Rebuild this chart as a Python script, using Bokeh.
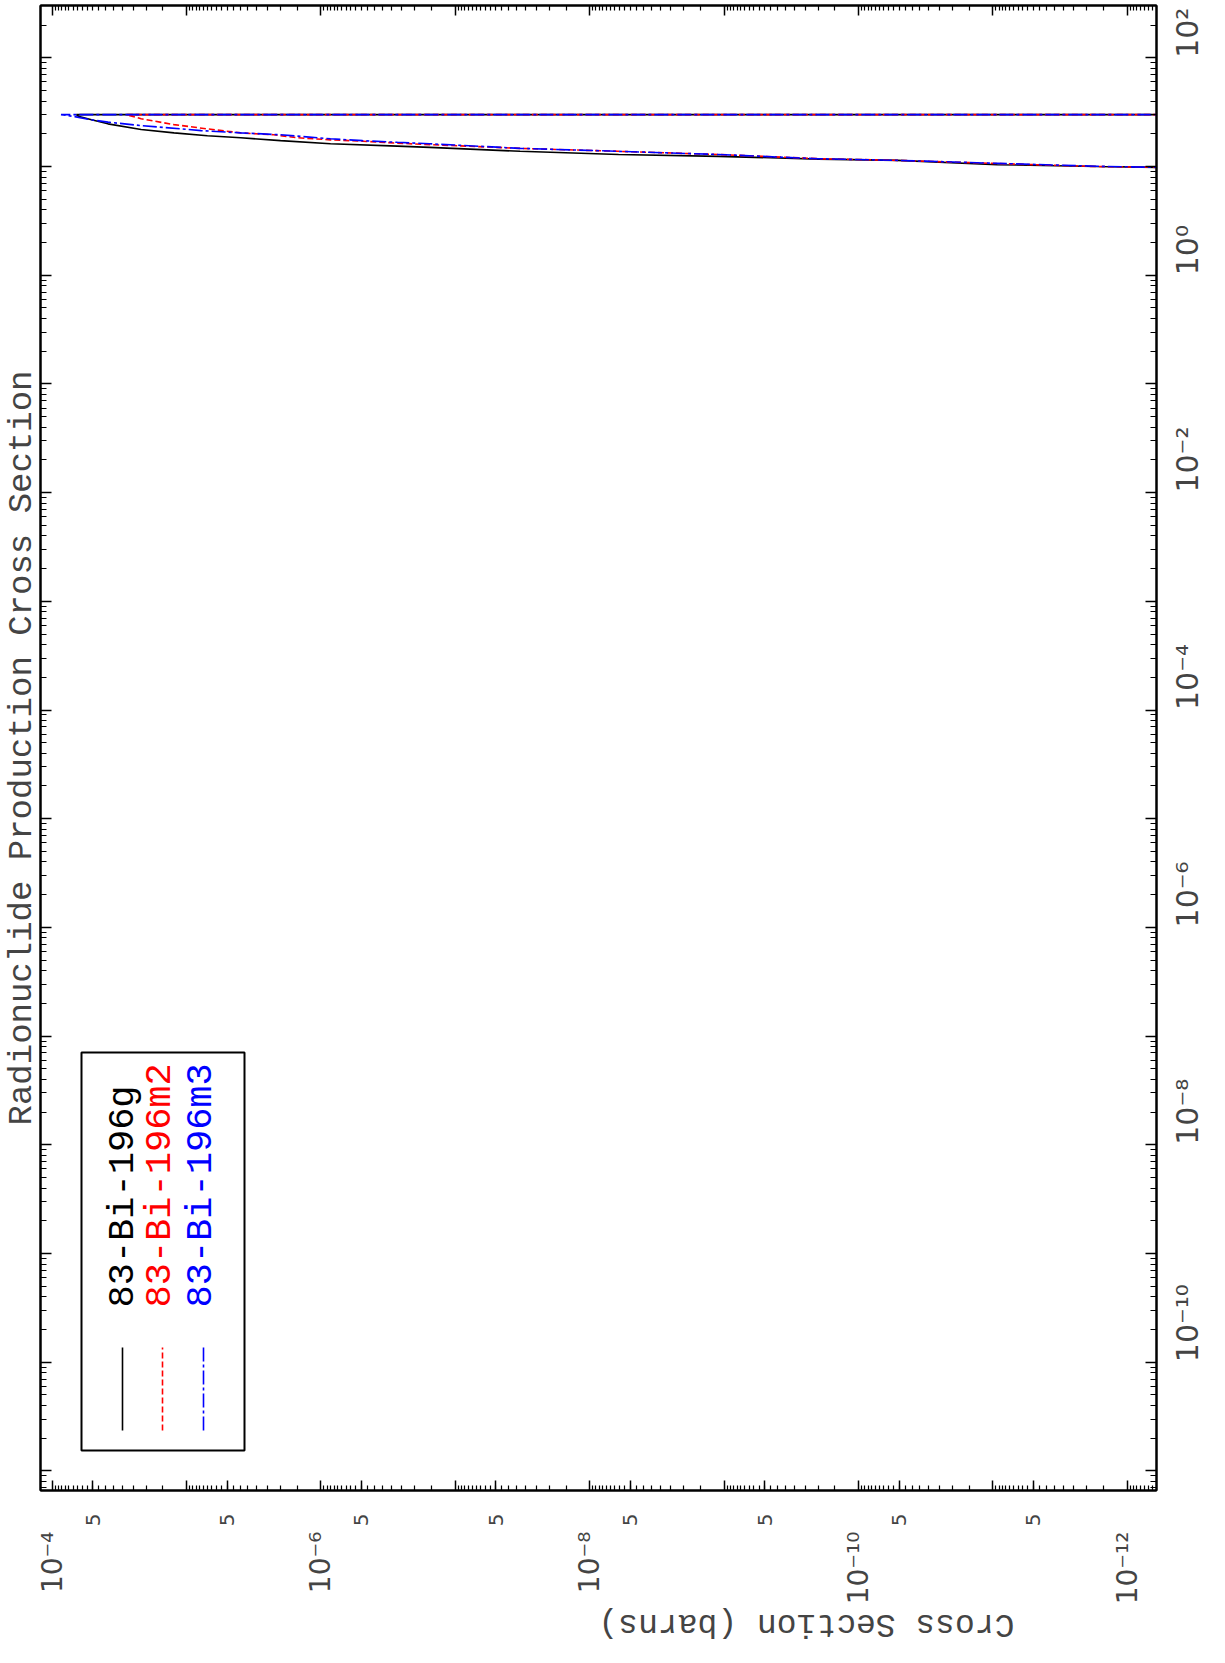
import math
from bokeh.plotting import figure
from bokeh.models import (Range1d, LogAxis, FixedTicker, CustomJSTickFormatter,
                          Label, BoxAnnotation, Arrow)
from bokeh.embed import file_html
from bokeh.resources import INLINE

# ---------------- data (incident energy in MeV, cross section in barns) ----------------
series_names = ["83-Bi-196g", "83-Bi-196m2", "83-Bi-196m3"]
series_colors = ["#000000", "#ff0000", "#0000ff"]

energy_g = [9.8, 10.0, 10.4, 11.4, 11.7, 12.4, 12.9, 13.8, 15.0, 15.4, 16.2, 17.3,
            18.4, 19.2, 20.4, 21.9, 24.7, 26.9, 29.0, 30.0, 30.0]
xs_g = [5.0e-13, 1.7e-12, 9.3e-12, 5.1e-11, 2.0e-10, 1.1e-9, 6.1e-9, 3.3e-8, 1.55e-7,
        2.7e-7, 8.5e-7, 2.0e-6, 3.96e-6, 7.0e-6, 1.24e-5, 2.18e-5, 3.85e-5, 5.1e-5,
        6.4e-5, 6.6e-5, 1.0e-15]

energy_m2 = [9.8, 10.0, 10.65, 11.4, 11.8, 12.9, 13.8, 14.7, 15.9, 16.4, 17.1, 17.6,
             18.4, 19.6, 20.4, 22.2, 24.3, 27.5, 30.0, 30.0]
xs_m2 = [5.0e-13, 1.7e-12, 9.3e-12, 5.1e-11, 2.0e-10, 1.1e-9, 6.1e-9, 3.3e-8, 1.55e-7,
         2.7e-7, 4.9e-7, 8.5e-7, 1.5e-6, 2.25e-6, 3.96e-6, 7.0e-6, 1.24e-5, 2.18e-5,
         2.8e-5, 1.0e-15]

energy_m3 = [9.8, 10.06, 10.7, 11.4, 11.8, 12.9, 13.8, 14.7, 16.2, 16.7, 17.3, 18.0,
             19.6, 20.4, 21.4, 23.8, 25.6, 26.9, 28.8, 30.0, 30.0]
xs_m3 = [5.0e-13, 1.7e-12, 9.3e-12, 5.1e-11, 2.0e-10, 1.1e-9, 6.1e-9, 3.3e-8, 1.55e-7,
         2.7e-7, 4.9e-7, 8.5e-7, 2.0e-6, 3.96e-6, 7.8e-6, 2.18e-5, 3.85e-5, 5.1e-5,
         6.8e-5, 8.6e-5, 1.0e-15]

title_text = "Radionuclide Production Cross Section"
xs_label = "Cross Section (barns)"

# axis limits (the whole chart is drawn rotated by 90 degrees)
xs_lim = (1.222e-4, 6.07e-13)      # cross section, runs left -> right decreasing
en_lim = (6.6e-12, 303.0)          # energy, runs bottom -> top increasing

# ---------------- tick positions ----------------
xs_decades = [10.0 ** k for k in range(-12, -3)]
xs_fives = [5.0 * 10.0 ** k for k in range(-13, -4)]
xs_labeled = [10.0 ** k for k in range(-12, -3, 2)]
xs_minor = [m * 10.0 ** k for k in range(-13, -3)
            for m in (1.5, 2, 2.5, 3, 3.5, 4, 4.5, 5, 5.5, 6, 6.5, 7, 7.5, 8, 8.5, 9, 9.5)]
en_decades = [10.0 ** k for k in range(-11, 3)]
en_minor = [m * 10.0 ** k for k in range(-12, 3) for m in range(2, 10)]

pow_code = r"""
const sup = {"-": "\u207B", "0": "\u2070", "1": "\u00B9", "2": "\u00B2", "3": "\u00B3",
             "4": "\u2074", "5": "\u2075", "6": "\u2076", "7": "\u2077", "8": "\u2078",
             "9": "\u2079"};
const e = Math.round(Math.log10(tick));
if (e % 2 != 0) return "";
return "10" + String(e).split("").map(c => sup[c]).join("");
"""
five_code = r"""
const e = Math.floor(Math.log10(tick) + 1e-9);
const m = Math.round(tick / Math.pow(10, e));
return m == 5 ? "5" : "";
"""
blank_code = "return '';"

p = figure(width=1225, height=1663, x_axis_type="log", y_axis_type="log",
           x_range=Range1d(*xs_lim), y_range=Range1d(*en_lim),
           y_axis_location="right", title=title_text, title_location="left",
           output_backend="svg", toolbar_location=None,
           min_border_left=39, min_border_right=65, min_border_top=5,
           min_border_bottom=173)
p.grid.visible = False
p.outline_line_color = "black"
p.outline_line_width = 2
p.background_fill_color = "white"
p.border_fill_color = "white"

p.title.text_font = "Liberation Mono"
p.title.text_font_size = "34px"
p.title.text_font_style = "normal"
p.title.align = "center"
p.title.standoff = 0
p.title.offset = 0


def style_ticks(ax, major_in, minor_in):
    ax.major_tick_in = major_in
    ax.major_tick_out = 0
    ax.minor_tick_in = minor_in
    ax.minor_tick_out = 0
    ax.axis_line_width = 2
    ax.major_tick_line_width = 1.5
    ax.minor_tick_line_width = 1.2


# bottom axis: ticks + "5" labels
xa = p.xaxis[0]
xa.ticker = FixedTicker(ticks=xs_decades + xs_fives, minor_ticks=xs_minor)
xa.formatter = CustomJSTickFormatter(code=five_code)
style_ticks(xa, 10, 5)
xa.major_label_orientation = math.pi / 2
xa.major_label_text_font = "DejaVu Sans"
xa.major_label_text_font_size = "20px"
xa.major_label_standoff = 23

# second bottom axis: power-of-ten labels only, plus the (upside-down) axis title
xb = LogAxis(ticker=FixedTicker(ticks=xs_labeled, minor_ticks=[]),
             formatter=CustomJSTickFormatter(code=pow_code))
xb.major_tick_in = 0
xb.major_tick_out = 0
xb.minor_tick_in = 0
xb.minor_tick_out = 0
xb.axis_line_color = None
xb.major_label_orientation = math.pi / 2
xb.major_label_text_font = "DejaVu Sans"
xb.major_label_text_font_size = "28px"
xb.major_label_standoff = 2
xb.axis_label = xs_label
xb.axis_label_text_font = "Liberation Mono"
xb.axis_label_text_font_size = "33px"
xb.axis_label_text_font_style = "normal"
xb.axis_label_standoff = 16
try:
    xb.axis_label_orientation = math.pi
except Exception:
    pass
p.add_layout(xb, "below")

# top mirror axis
xt = LogAxis(ticker=FixedTicker(ticks=xs_decades, minor_ticks=xs_minor),
             formatter=CustomJSTickFormatter(code=blank_code))
style_ticks(xt, 10, 5)
xt.major_label_text_font_size = "0px"
xt.major_label_standoff = 0
p.add_layout(xt, "above")

# right axis: energy
ya = p.yaxis[0]
ya.ticker = FixedTicker(ticks=en_decades, minor_ticks=en_minor)
ya.formatter = CustomJSTickFormatter(code=pow_code)
style_ticks(ya, 11, 6)
ya.major_label_orientation = math.pi / 2
ya.major_label_text_font = "DejaVu Sans"
ya.major_label_text_font_size = "30px"
ya.major_label_standoff = 31

# left mirror axis
yl = LogAxis(ticker=FixedTicker(ticks=en_decades, minor_ticks=en_minor),
             formatter=CustomJSTickFormatter(code=blank_code))
style_ticks(yl, 11, 6)
yl.major_label_text_font_size = "0px"
yl.major_label_standoff = 0
p.add_layout(yl, "left")

# ---------------- curves ----------------
p.line(xs_g, energy_g, line_color=series_colors[0], line_width=1.6)
p.line(xs_m2, energy_m2, line_color=series_colors[1], line_width=1.6, line_dash="6 3")
p.line(xs_m3, energy_m3, line_color=series_colors[2], line_width=1.6, line_dash="14 3 3 3")

# ---------------- legend (rotated, built by hand) ----------------
p.add_layout(BoxAnnotation(left=41, right=204, bottom=40, top=438,
                           left_units="screen", right_units="screen",
                           bottom_units="screen", top_units="screen",
                           fill_color=None, line_color="black", line_alpha=1.0,
                           line_width=2))
dashes = ["solid", "6 3", "14 3 3 3"]
leg_x = [82, 122, 163]
txt_x = [82, 119, 160]
for i in range(3):
    p.add_layout(Arrow(end=None, x_start=leg_x[i], y_start=60, x_end=leg_x[i], y_end=143,
                       start_units="screen", end_units="screen",
                       line_color=series_colors[i], line_width=1.6, line_dash=dashes[i]))
    p.add_layout(Label(x=txt_x[i], y=183, x_units="screen", y_units="screen",
                       text=series_names[i], angle=math.pi / 2, text_align="left",
                       text_baseline="middle", text_font="Liberation Mono",
                       text_font_size="37px", text_color=series_colors[i]))

open("out.html", "w").write(file_html(p, INLINE))
